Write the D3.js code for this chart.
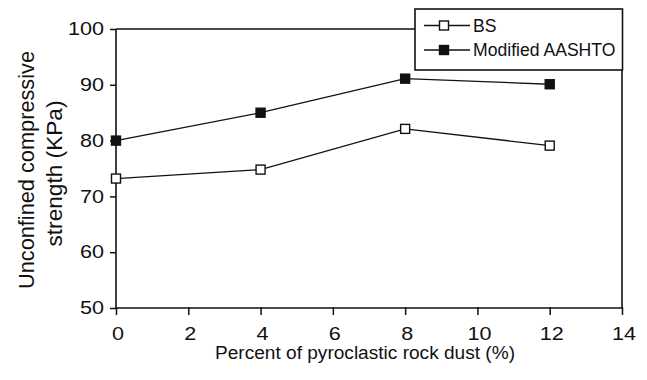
<!DOCTYPE html>
<html>
<head>
<meta charset="utf-8">
<script src="https://cdn.jsdelivr.net/npm/d3@7"></script>
<style>
  html, body { margin: 0; padding: 0; background: #fff; }
  svg { display: block; font-family: "Liberation Sans", Arial, Helvetica, sans-serif; }
</style>
</head>
<body>
<svg id="chart" width="647" height="380"></svg>
<script>
// Rock dust content (%) and unconfined compressive strength (KPa)
const dustPercent = [0, 4, 8, 12];
const bsStrength = [73.2, 74.8, 82.1, 79.1];
const aashtoStrength = [80, 85, 91.1, 90.1];
const seriesNames = ["BS", "Modified AASHTO"];
const xTicks = [0, 2, 4, 6, 8, 10, 12, 14];
const yTicks = [50, 60, 70, 80, 90, 100];

const svg = d3.select("#chart");
const margin = { left: 116, right: 25, top: 29, bottom: 72 };
const W = 647, H = 380;

const x = d3.scaleLinear().domain([0, 14]).range([margin.left, W - margin.right]);
const y = d3.scaleLinear().domain([50, 100]).range([H - margin.bottom, margin.top]);

const ink = "#111";
const widen = 1.2; // tick numerals are set slightly extended

// Axes
const xAxis = svg.append("g")
  .attr("transform", `translate(0,${y(50)})`)
  .call(d3.axisBottom(x).tickValues(xTicks).tickSize(7).tickPadding(12).tickFormat(d3.format("d")));
const yAxis = svg.append("g")
  .attr("transform", `translate(${x(0)},0)`)
  .call(d3.axisLeft(y).tickValues(yTicks).tickSize(6).tickPadding(6).tickFormat(d3.format("d")));

[xAxis, yAxis].forEach(g => {
  g.select(".domain").remove();
  g.selectAll(".tick line").attr("stroke", ink).attr("stroke-width", 1.5);
  g.selectAll(".tick text").attr("fill", ink).style("font-size", "18px");
});
xAxis.selectAll(".tick line").attr("y1", -1);
xAxis.selectAll(".tick text")
  .attr("x", 1.5 / widen)
  .attr("transform", `scale(${widen},1)`);
yAxis.selectAll(".tick text")
  .attr("x", -12 / widen)
  .attr("transform", `scale(${widen},1)`);

// Legend box geometry
const legend = { x0: 415, y0: 9, x1: 622.5, y1: 70 };

// Plot frame: left, bottom, top up to legend, right below legend
const frame = svg.append("g").attr("stroke", ink).attr("stroke-width", 1.6).attr("fill", "none");
frame.append("line").attr("x1", x(0)).attr("x2", x(0)).attr("y1", y(100)).attr("y2", y(50));
frame.append("line").attr("x1", x(0)).attr("x2", x(14)).attr("y1", y(50)).attr("y2", y(50));
frame.append("line").attr("x1", x(0)).attr("x2", legend.x0).attr("y1", y(100)).attr("y2", y(100));
frame.append("line").attr("x1", x(14)).attr("x2", x(14)).attr("y1", legend.y1).attr("y2", y(50));

// Series
const series = [
  { name: seriesNames[0], values: bsStrength, fill: "#fff" },
  { name: seriesNames[1], values: aashtoStrength, fill: ink }
];
const line = d3.line().x(d => x(d[0])).y(d => y(d[1]));
const ms = 9;

series.forEach(s => {
  const pts = dustPercent.map((d, i) => [d, s.values[i]]);
  svg.append("path").attr("d", line(pts)).attr("fill", "none").attr("stroke", ink).attr("stroke-width", 1.3);
  svg.append("g").selectAll("rect").data(pts).join("rect")
    .attr("x", d => x(d[0]) - ms / 2).attr("y", d => y(d[1]) - ms / 2)
    .attr("width", ms).attr("height", ms)
    .attr("fill", s.fill).attr("stroke", ink).attr("stroke-width", 1.4);
});

// Legend
svg.append("rect")
  .attr("x", legend.x0).attr("y", legend.y0)
  .attr("width", legend.x1 - legend.x0).attr("height", legend.y1 - legend.y0)
  .attr("fill", "#fff").attr("stroke", ink).attr("stroke-width", 1.6);
series.forEach((s, i) => {
  const cy = 25.5 + i * 24.5;
  const g = svg.append("g");
  g.append("line").attr("x1", 424).attr("x2", 470).attr("y1", cy).attr("y2", cy)
    .attr("stroke", ink).attr("stroke-width", 1.3);
  g.append("rect").attr("x", 444 - ms / 2).attr("y", cy - ms / 2).attr("width", ms).attr("height", ms)
    .attr("fill", s.fill).attr("stroke", ink).attr("stroke-width", 1.4);
  g.append("text").attr("x", 473).attr("y", cy).attr("dy", "0.35em")
    .attr("fill", ink).style("font-size", "17.6px").text(s.name);
});

// Axis titles
svg.append("text")
  .attr("x", 365).attr("y", 359)
  .attr("text-anchor", "middle").attr("fill", ink).style("font-size", "18px")
  .attr("textLength", 300).attr("lengthAdjust", "spacingAndGlyphs")
  .text("Percent of pyroclastic rock dust (%)");

const yTitle = svg.append("text")
  .attr("transform", "rotate(-90)")
  .attr("text-anchor", "middle").attr("fill", ink).style("font-size", "21.5px");
yTitle.append("tspan").attr("x", -170).attr("y", 33.5)
  .attr("textLength", 238).attr("lengthAdjust", "spacingAndGlyphs")
  .text("Unconfined compressive");
yTitle.append("tspan").attr("x", -173.5).attr("y", 62)
  .attr("textLength", 146).attr("lengthAdjust", "spacingAndGlyphs")
  .text("strength (KPa)");
</script>
</body>
</html>
